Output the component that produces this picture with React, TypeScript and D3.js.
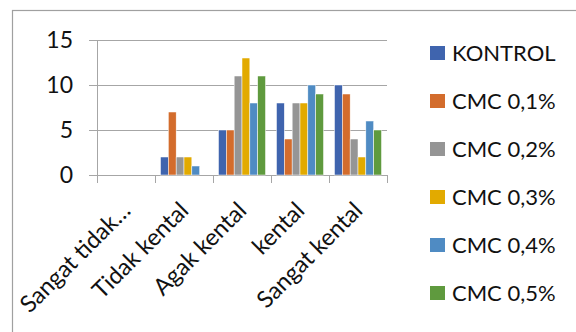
import React from 'react'
import { scaleBand, scaleLinear } from 'd3'

// categories on the x axis
const categories = ['Sangat tidak…', 'Tidak kental', 'Agak kental', 'kental', 'Sangat kental']

// one series per treatment
const seriesNames = ['KONTROL', 'CMC 0,1%', 'CMC 0,2%', 'CMC 0,3%', 'CMC 0,4%', 'CMC 0,5%']
const kontrol = [0, 2, 5, 8, 10]
const cmc01 = [0, 7, 5, 4, 9]
const cmc02 = [0, 2, 11, 8, 4]
const cmc03 = [0, 2, 13, 8, 2]
const cmc04 = [0, 1, 8, 10, 6]
const cmc05 = [0, 0, 11, 9, 5]
const yTicks = [0, 5, 10, 15]

const colors = ['#3f64ae', '#d36c2c', '#959595', '#e2aa00', '#4f8bc3', '#5f9a3e']

export default function App() {
  const width = 576
  const height = 332
  const font = 'Lato, "Open Sans", sans-serif'
  const grid = '#a6a6a6'

  const plot = { left: 97, right: 387, top: 40, bottom: 175 }
  const values = [kontrol, cmc01, cmc02, cmc03, cmc04, cmc05]

  const x = scaleBand().domain(categories).range([plot.left, plot.right])
  const inner = scaleBand()
    .domain(seriesNames)
    .range([0, x.bandwidth()])
    .paddingOuter(0.7)
  const y = scaleLinear().domain([0, 15]).range([plot.bottom, plot.top])

  const catEdges = [...categories.map(c => x(c)!), plot.right]

  return (
    <div style={{ position: 'absolute', left: 0, top: 0 }}>
      <svg width={width} height={height} style={{ display: 'block' }}>
        <rect x={0} y={0} width={width} height={height} fill="white" />
        {/* chart border */}
        <rect x={12.5} y={10.5} width={700} height={400} fill="none" stroke="#a0a0a0" strokeWidth={1.2} />

        {/* gridlines and y labels */}
        {yTicks.map(t => (
          <g key={t}>
            <line x1={plot.left - 8} x2={plot.right} y1={Math.round(y(t)) + 0.5} y2={Math.round(y(t)) + 0.5}
              stroke={grid} strokeWidth={1} />
            <text x={73} y={y(t)} dy="0.36em" textAnchor="end" fontFamily={font} fontSize={23} fill="#111">{t}</text>
          </g>
        ))}
        {/* y axis */}
        <line x1={plot.left + 0.5} x2={plot.left + 0.5} y1={plot.top} y2={plot.bottom} stroke={grid} />
        {/* category ticks */}
        {catEdges.map((e, i) => (
          <line key={i} x1={Math.round(e) + 0.5} x2={Math.round(e) + 0.5} y1={plot.bottom} y2={plot.bottom + 8} stroke={grid} />
        ))}

        {/* bars */}
        {values.map((vals, si) => (
          <g key={si}>
            {vals.map((v, ci) => v > 0 && (
              <rect key={ci}
                x={x(categories[ci])! + inner(seriesNames[si])!}
                y={y(v)}
                width={inner.bandwidth()}
                height={y(0) - y(v)}
                fill={colors[si]}
                stroke="white" strokeWidth={0.5} />
            ))}
          </g>
        ))}

        {/* category labels */}
        {categories.map(c => {
          const cx = x(c)! + x.bandwidth() / 2 - 6
          const cy = plot.bottom + 25
          return (
            <text key={c} transform={`translate(${cx},${cy}) rotate(-45)`} textAnchor="end" dy="0.72em"
              fontFamily={font} fontSize={23.5} fill="#111">{c}</text>
          )
        })}

        {/* legend */}
        {seriesNames.map((s, i) => {
          const ly = 53 + i * 48
          return (
            <g key={s}>
              <rect x={430} y={ly - 7} width={15} height={14} fill={colors[i]} />
              <text x={452} y={ly} dy="0.36em" fontFamily={font} fontSize={22} fill="#111">{s}</text>
            </g>
          )
        })}
      </svg>
    </div>
  )
}
